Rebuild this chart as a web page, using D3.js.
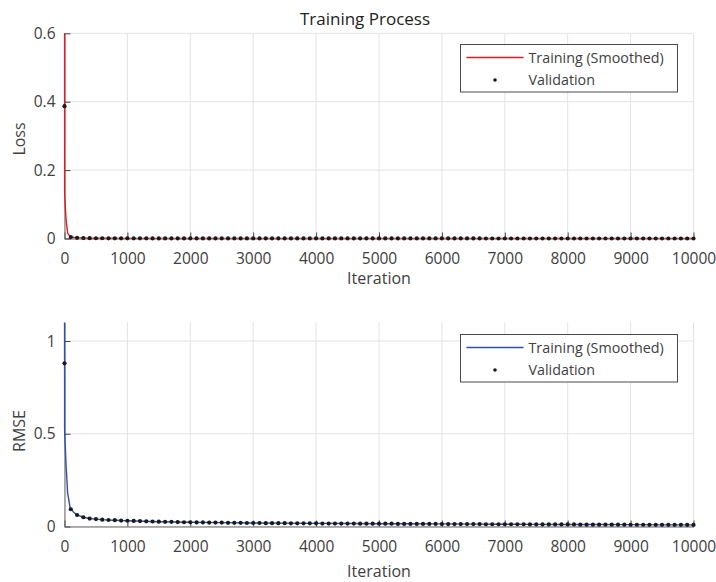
<!DOCTYPE html>
<html>
<head>
<meta charset="utf-8">
<script src="https://cdn.jsdelivr.net/npm/d3@7"></script>
<style>
    body { margin: 0; background: #fff; }
    svg text { font-family: "Open Sans", "Noto Sans", sans-serif; fill: #404040; }
</style>
</head>
<body>
<div id="divChart"></div>
<script>
// ---- данные ----
var xTicks = [0, 1000, 2000, 3000, 4000, 5000, 6000, 7000, 8000, 9000, 10000];
var lossTicks = [0, 0.2, 0.4, 0.6];
var rmseTicks = [0, 0.5, 1];

// сглаженная кривая обучения (опорные итерации)
var trainIter = [0, 2, 10, 25, 50, 90, 150, 200, 300, 400, 500, 600, 700, 800, 900, 1000,
    1500, 2000, 2500, 3000, 3500, 4000, 4500, 5000, 5500, 6000, 6500, 7000, 7500, 8000,
    8500, 9000, 9500, 10000];
var trainLoss = [1.3, 0.135, 0.10, 0.055, 0.016, 0.005, 0.0028, 0.002, 0.00125, 0.0009,
    0.0008, 0.0007, 0.0006, 0.0006, 0.0005, 0.0005, 0.00034, 0.00026, 0.00022, 0.00018,
    0.00016, 0.00014, 0.00013, 0.00011, 0.0001, 0.0001, 0.00008, 0.00007, 0.00007, 0.00006,
    0.00006, 0.00005, 0.00004, 0.00004];
var trainRmse = [1.6, 0.52, 0.45, 0.33, 0.18, 0.10, 0.075, 0.063, 0.050, 0.043, 0.040,
    0.037, 0.035, 0.034, 0.032, 0.031, 0.026, 0.023, 0.021, 0.019, 0.018, 0.017, 0.016,
    0.015, 0.0145, 0.014, 0.013, 0.012, 0.0115, 0.011, 0.0105, 0.010, 0.009, 0.0085];

// валидация каждые 100 итераций
var validIter = [0,
    100, 200, 300, 400, 500, 600, 700, 800, 900, 1000,
    1100, 1200, 1300, 1400, 1500, 1600, 1700, 1800, 1900, 2000,
    2100, 2200, 2300, 2400, 2500, 2600, 2700, 2800, 2900, 3000,
    3100, 3200, 3300, 3400, 3500, 3600, 3700, 3800, 3900, 4000,
    4100, 4200, 4300, 4400, 4500, 4600, 4700, 4800, 4900, 5000,
    5100, 5200, 5300, 5400, 5500, 5600, 5700, 5800, 5900, 6000,
    6100, 6200, 6300, 6400, 6500, 6600, 6700, 6800, 6900, 7000,
    7100, 7200, 7300, 7400, 7500, 7600, 7700, 7800, 7900, 8000,
    8100, 8200, 8300, 8400, 8500, 8600, 8700, 8800, 8900, 9000,
    9100, 9200, 9300, 9400, 9500, 9600, 9700, 9800, 9900, 10000];
var validLoss = [0.387,
    0.0043, 0.0019, 0.00125, 0.0009, 0.0008, 0.0007, 0.0006, 0.00058, 0.0005, 0.00048,
    0.00045, 0.00042, 0.00039, 0.00036, 0.00034, 0.00031, 0.0003, 0.00029, 0.00027, 0.00026,
    0.00024, 0.00024, 0.00022, 0.00022, 0.00022, 0.0002, 0.0002, 0.0002, 0.00018, 0.00018,
    0.00018, 0.00016, 0.00016, 0.00016, 0.00016, 0.00014, 0.00014, 0.00014, 0.00014, 0.00014,
    0.00013, 0.00013, 0.00013, 0.00013, 0.00013, 0.00013, 0.00011, 0.00011, 0.00011, 0.00011,
    0.00011, 0.00011, 0.0001, 0.0001, 0.0001, 0.0001, 0.0001, 0.0001, 0.0001, 0.00008,
    0.00008, 0.00008, 0.00008, 0.00008, 0.00008, 0.00008, 0.00007, 0.00007, 0.00007, 0.00007,
    0.00007, 0.00007, 0.00007, 0.00006, 0.00006, 0.00006, 0.00006, 0.00006, 0.00006, 0.00006,
    0.00006, 0.00005, 0.00005, 0.00005, 0.00005, 0.00005, 0.00005, 0.00005, 0.00005, 0.000045,
    0.000045, 0.000045, 0.00004, 0.00004, 0.00004, 0.00004, 0.00004, 0.000039, 0.000037, 0.000036];
var validRmse = [0.88,
    0.093, 0.062, 0.050, 0.043, 0.040, 0.037, 0.035, 0.034, 0.032, 0.031,
    0.030, 0.029, 0.028, 0.027, 0.026, 0.025, 0.025, 0.024, 0.023, 0.023,
    0.022, 0.022, 0.021, 0.021, 0.021, 0.020, 0.020, 0.020, 0.019, 0.019,
    0.019, 0.018, 0.018, 0.018, 0.018, 0.017, 0.017, 0.017, 0.017, 0.017,
    0.016, 0.016, 0.016, 0.016, 0.016, 0.016, 0.015, 0.015, 0.015, 0.015,
    0.015, 0.015, 0.014, 0.014, 0.014, 0.014, 0.014, 0.014, 0.014, 0.013,
    0.013, 0.013, 0.013, 0.013, 0.013, 0.013, 0.012, 0.012, 0.012, 0.012,
    0.012, 0.012, 0.012, 0.011, 0.011, 0.011, 0.011, 0.011, 0.011, 0.011,
    0.011, 0.010, 0.010, 0.010, 0.010, 0.010, 0.010, 0.010, 0.010, 0.0095,
    0.0095, 0.0095, 0.009, 0.009, 0.009, 0.009, 0.009, 0.0088, 0.0086, 0.0085];

function init()
{
    var width = 716;
    var height = 582;
    var left = 64.5, right = 693.5;

    var svg = d3.select("#divChart").append("svg")
        .attr("width", width)
        .attr("height", height);

    var scaleX = d3.scaleLinear()
        .domain([0, 10000])
        .range([left, right]);

    svg.append("text")
        .attr("x", 365)
        .attr("y", 25)
        .attr("text-anchor", "middle")
        .style("font-size", "17px")
        .style("font-weight", "500")
        .style("fill", "#222")
        .text("Training Process");

    drawPanel(svg, scaleX, {
        id: "loss", top: 33.3, bottom: 238.5, yMax: 0.6, ticks: lossTicks,
        label: "Loss", labelY: 139, color: "#e3191f",
        train: trainLoss, valid: validLoss, legendY: 44.5, xLabelY: 284
    });
    drawPanel(svg, scaleX, {
        id: "rmse", top: 322.5, bottom: 526.5, yMax: 1.1, ticks: rmseTicks,
        label: "RMSE", labelY: 431, color: "#2f4fa8",
        train: trainRmse, valid: validRmse, legendY: 334.5, xLabelY: 577
    });
}

function drawPanel(svg, scaleX, p)
{
    var scaleY = d3.scaleLinear()
        .domain([0, p.yMax])
        .range([p.bottom, p.top]);

    // сетка
    var grid = svg.append("g");
    grid.selectAll("line.gx").data(xTicks).enter().append("line")
        .attr("x1", function(d){ return scaleX(d); })
        .attr("x2", function(d){ return scaleX(d); })
        .attr("y1", p.top).attr("y2", p.bottom)
        .style("stroke", "#e3e3e3").style("stroke-width", 1);
    grid.selectAll("line.gy").data(p.ticks).enter().append("line")
        .attr("x1", scaleX(0)).attr("x2", scaleX(10000))
        .attr("y1", function(d){ return scaleY(d); })
        .attr("y2", function(d){ return scaleY(d); })
        .style("stroke", "#e3e3e3").style("stroke-width", 1);

    // оси, риски внутрь как в MATLAB
    var xAxis = d3.axisBottom(scaleX).tickValues(xTicks)
        .tickSizeInner(-6).tickSizeOuter(0).tickPadding(14)
        .tickFormat(d3.format("d"));
    var yAxis = d3.axisLeft(scaleY).tickValues(p.ticks)
        .tickSizeInner(-6).tickSizeOuter(0).tickPadding(9)
        .tickFormat(function(d){ return d === 0 ? "0" : String(d); });

    var gx = svg.append("g")
        .attr("transform", "translate(0," + p.bottom + ")")
        .call(xAxis);
    var gy = svg.append("g")
        .attr("transform", "translate(" + scaleX(0) + ",0)")
        .call(yAxis);
    [gx, gy].forEach(function(g){
        g.select(".domain").style("stroke", "#666");
        g.selectAll(".tick line").style("stroke", "#444");
        g.selectAll(".tick text").style("font-size", "15.5px").style("fill", "#404040")
            .style("font-family", "'Open Sans', sans-serif");
    });

    svg.append("text")
        .attr("x", 379).attr("y", p.xLabelY)
        .attr("text-anchor", "middle")
        .style("font-size", "16px")
        .text("Iteration");
    svg.append("text")
        .attr("transform", "translate(25," + p.labelY + ") rotate(-90)")
        .attr("text-anchor", "middle")
        .style("font-size", "16px")
        .text(p.label);

    // обрезка кривых по области графика
    svg.append("clipPath").attr("id", "clip-" + p.id)
        .append("rect")
        .attr("x", scaleX(0) - 2).attr("y", p.top)
        .attr("width", scaleX(10000) - scaleX(0) + 6)
        .attr("height", p.bottom - p.top);

    var trainData = trainIter.map(function(d, i){ return {x: d, y: p.train[i]}; });
    var line = d3.line()
        .x(function(d){ return scaleX(d.x); })
        .y(function(d){ return scaleY(d.y); });

    svg.append("path")
        .attr("clip-path", "url(#clip-" + p.id + ")")
        .attr("d", line(trainData))
        .style("fill", "none")
        .style("stroke", p.color)
        .style("stroke-width", 1.4);

    var validData = validIter.map(function(d, i){ return {x: d, y: p.valid[i]}; });
    svg.append("g").selectAll("circle").data(validData).enter().append("circle")
        .attr("cx", function(d){ return scaleX(d.x); })
        .attr("cy", function(d){ return scaleY(d.y); })
        .attr("r", 2.1)
        .style("fill", "#1a1a1a");

    // легенда
    var lg = svg.append("g").attr("transform", "translate(460.5," + p.legendY + ")");
    lg.append("rect")
        .attr("width", 217).attr("height", 47.5)
        .style("fill", "#fff").style("stroke", "#4a4a4a").style("stroke-width", 1);
    lg.append("line")
        .attr("x1", 6).attr("x2", 63).attr("y1", 13).attr("y2", 13)
        .style("stroke", p.color).style("stroke-width", 1.3);
    lg.append("text").attr("x", 68).attr("y", 18.5)
        .style("font-size", "14.3px").text("Training (Smoothed)");
    lg.append("circle").attr("cx", 34.5).attr("cy", 35.5).attr("r", 1.8)
        .style("fill", "#1a1a1a");
    lg.append("text").attr("x", 68).attr("y", 40.5)
        .style("font-size", "14.3px").text("Validation");
}

window.onload = init;
</script>
</body>
</html>
